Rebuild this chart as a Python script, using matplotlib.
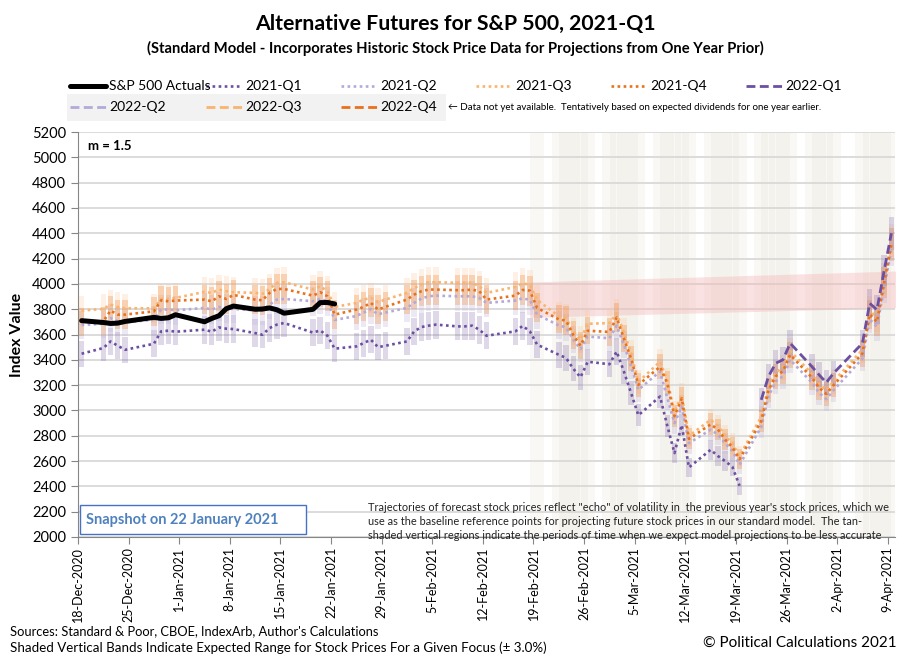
import numpy as np
import pandas as pd
import matplotlib
matplotlib.use("Agg")
import matplotlib.pyplot as plt
from matplotlib.lines import Line2D
from matplotlib.patches import Rectangle

plt.rcParams['font.family'] = ['Lato', 'DejaVu Sans']

# trading days shown on the chart
dates = ['2020-12-18', '2020-12-21', '2020-12-22', '2020-12-23', '2020-12-24', '2020-12-28',
         '2020-12-29', '2020-12-30', '2020-12-31', '2021-01-04', '2021-01-05', '2021-01-06',
         '2021-01-07', '2021-01-08', '2021-01-11', '2021-01-12', '2021-01-13', '2021-01-14',
         '2021-01-15', '2021-01-19', '2021-01-20', '2021-01-21', '2021-01-22', '2021-01-25',
         '2021-01-26', '2021-01-27', '2021-01-28', '2021-01-29', '2021-02-01', '2021-02-02',
         '2021-02-03', '2021-02-04', '2021-02-05', '2021-02-08', '2021-02-09', '2021-02-10',
         '2021-02-11', '2021-02-12', '2021-02-16', '2021-02-17', '2021-02-18', '2021-02-19',
         '2021-02-22', '2021-02-23', '2021-02-24', '2021-02-25', '2021-02-26', '2021-03-01',
         '2021-03-02', '2021-03-03', '2021-03-04', '2021-03-05', '2021-03-08', '2021-03-09',
         '2021-03-10', '2021-03-11', '2021-03-12', '2021-03-15', '2021-03-16', '2021-03-17',
         '2021-03-18', '2021-03-19', '2021-03-22', '2021-03-23', '2021-03-24', '2021-03-25',
         '2021-03-26', '2021-03-29', '2021-03-30', '2021-03-31', '2021-04-01', '2021-04-05',
         '2021-04-06', '2021-04-07', '2021-04-08', '2021-04-09']

actuals = [3709.41, 3694.92, 3687.26, 3690.01, 3703.06, 3735.36, 3727.04, 3732.04, 3756.07,
           3700.65, 3726.86, 3748.14, 3803.79, 3824.68, 3799.61, 3801.19, 3809.84, 3795.54,
           3768.25, 3798.91, 3851.85, 3853.07, 3841.47]

q1_2021 = [3448, 3493, 3545, 3511, 3479, 3527, 3625, 3630, 3622, 3638, 3622, 3656, 3646, 3643,
           3611, 3598, 3651, 3678, 3691, 3615, 3632, 3590, 3488, 3506, 3532, 3559, 3500, 3511,
           3545, 3625, 3659, 3670, 3678, 3664, 3664, 3670, 3638, 3590, 3625, 3668, 3625, 3520,
           3440, 3415, 3330, 3262, 3385, 3365, 3465, 3308, 3137, 2962, 3110, 2880, 2663, 2885,
           2550, 2689, 2640, 2600, 2555, 2405]

q2_2021 = [3675, 3685, 3730, 3704, 3696, 3717, 3797, 3797, 3791, 3810, 3797, 3818, 3807, 3802,
           3791, 3791, 3836, 3876, 3881, 3863, 3881, 3863, 3715, 3746, 3773, 3800, 3760, 3773,
           3810, 3850, 3884, 3902, 3907, 3902, 3902, 3902, 3889, 3850, 3868, 3886, 3873, 3757,
           3672, 3656, 3560, 3485, 3584, 3570, 3670, 3520, 3350, 3163, 3308, 3100, 2900, 3031,
           2742, 2847, 2810, 2740, 2680, 2571, 2870, 3110, 3230, 3270, 3400, 3220, 3140, 3090,
           3160, 3410, 3720, 3660, 3970, 4270]

q3_2021 = [3789, 3802, 3836, 3818, 3807, 3807, 3881, 3881, 3889, 3937, 3929, 3955, 3942, 3934,
           3929, 3921, 3960, 4008, 4013, 3955, 3981, 3942, 3818, 3849, 3876, 3889, 3855, 3876,
           3929, 3968, 3995, 4013, 4013, 4008, 4008, 4008, 3981, 3929, 3976, 4005, 3992, 3873,
           3745, 3730, 3625, 3557, 3685, 3690, 3765, 3620, 3450, 3225, 3385, 3240, 2985, 3120,
           2800, 2925, 2880, 2800, 2740, 2640, 2950, 3190, 3300, 3340, 3470, 3290, 3210, 3160,
           3230, 3480, 3790, 3730, 4040, 4340]

q4_2021 = [3700, 3704, 3789, 3757, 3757, 3783, 3870, 3862, 3868, 3876, 3862, 3902, 3881, 3913,
           3876, 3870, 3929, 3960, 3960, 3907, 3934, 3902, 3757, 3797, 3818, 3850, 3797, 3818,
           3876, 3915, 3942, 3955, 3955, 3950, 3950, 3955, 3942, 3876, 3907, 3952, 3947, 3810,
           3720, 3710, 3595, 3512, 3630, 3620, 3735, 3570, 3410, 3202, 3345, 3215, 2955, 3095,
           2775, 2890, 2850, 2770, 2710, 2615, 2915, 3160, 3270, 3310, 3440, 3260, 3180, 3130,
           3200, 3450, 3760, 3700, 4010, 4310]

# 2022-Q1 starts on 22 March
q1_2022 = [3084, 3268, 3373, 3400, 3531, 3347, 3281, 3220, 3294, 3531, 3847, 3795, 4105, 4400]

# tan shaded days start on 19 February
tan_start = '2021-02-19'
# dividend-based range (pink) at start/end
pink_days = ['2021-02-18', '2021-04-10']
pink_lo = [3735, 3812]
pink_hi = [4015, 4102]

start = pd.Timestamp('2020-12-18')
xd = np.array((pd.to_datetime(dates) - start).days, dtype=float) + 0.5
n = len(dates)


def pad(vals, first=0):
    a = np.full(n, np.nan)
    a[first:first + len(vals)] = vals
    return a


s_act = pad(actuals)
s_q1 = pad(q1_2021)
s_q2 = pad(q2_2021)
s_q3 = pad(q3_2021)
s_q4 = pad(q4_2021)
s_n1 = pad(q1_2022, n - len(q1_2022))

c_q1 = '#6b4fa0'
c_q2 = '#b4a9d9'
c_q3 = '#f9b46e'
c_q4 = '#e8711c'

fig = plt.figure(figsize=(9.1, 6.61), dpi=100)
ax = fig.add_axes([78 / 910, 124 / 661, 817 / 910, 405 / 661])

# tan shaded vertical regions
tmask = np.array(pd.to_datetime(dates) >= pd.Timestamp(tan_start))
ax.bar(xd[tmask], 6000, bottom=0, width=1.94, color='#d8cfb4', alpha=0.13, linewidth=0, zorder=0)

# pink range
px_ = (pd.to_datetime(pink_days) - start).days + 0.5
ax.fill_between(px_, pink_lo, pink_hi, color='#f5b5b5', alpha=0.38, linewidth=0, zorder=1)

# +/- 3% bands
for s, c, a in [(s_q1, '#7d64ab', 0.25), (s_q2, '#c2b8e0', 0.3), (s_q3, '#fbbf88', 0.22),
                (s_q4, '#f08a3a', 0.3), (s_n1, '#7d64ab', 0.25)]:
    m = ~np.isnan(s)
    ax.bar(xd[m], s[m] * 0.06, bottom=s[m] * 0.97, width=0.75, color=c, alpha=a,
           linewidth=0, zorder=2)

dot = (0, (1, 1.3))
dash = (0, (3.2, 1.6))
ax.plot(xd, s_q2, color=c_q2, lw=1.9, ls=dot, zorder=4)
ax.plot(xd, s_q1, color=c_q1, lw=1.9, ls=dot, zorder=4)
ax.plot(xd, s_q3, color=c_q3, lw=1.9, ls=dot, zorder=4)
ax.plot(xd, s_q4, color=c_q4, lw=1.9, ls=dot, zorder=4)
ax.plot(xd, s_n1, color=c_q1, lw=2.0, ls=dash, zorder=5)
ax.plot(xd, s_act, color='black', lw=3.6, solid_capstyle='round', zorder=6)

ax.set_xlim(0, 113)
ax.set_ylim(2000, 5200)
ax.set_yticks(np.arange(2000, 5201, 200))
ax.yaxis.grid(True, color='#d9d9d9', lw=1.3, zorder=0)
ax.set_axisbelow(True)
ticks = np.arange(0, 113, 7)
tdates = [start + pd.Timedelta(days=int(t)) for t in ticks]
ax.set_xticks(ticks)
ax.set_xticklabels([f"{d.day}-{d.strftime('%b-%Y')}" for d in tdates], rotation=90,
                   fontsize=9)
ax.tick_params(axis='y', labelsize=10.5, length=5, color='#868686', direction='out')
ax.tick_params(axis='x', length=5, color='#868686', direction='out', pad=2)
for sp in ['top', 'right']:
    ax.spines[sp].set_visible(False)
for sp in ['left', 'bottom']:
    ax.spines[sp].set_color('#868686')

ax.text(0.012, 0.965, 'm = 1.5', transform=ax.transAxes, fontsize=9.5, fontweight='bold',
        va='center')

ax.text(40.1, 2278, "Trajectories of forecast stock prices reflect \"echo\" of volatility in  the previous year's stock prices, which we\n"
        "use as the baseline reference points for projecting future stock prices in our standard model.  The tan-\n"
        "shaded vertical regions indicate the periods of time when we expect model projections to be less accurate",
        fontsize=7.95, ha='left', va='top', linespacing=1.35, color='#222222', zorder=7)

fig.text(17 / 910, 1 - 335 / 661, 'Index Value', rotation=90, fontsize=11.5, fontweight='bold',
         ha='center', va='center')


def P(x, y):
    return x / 910, 1 - y / 661


# snapshot box
fig.patches.append(Rectangle(P(80, 534), 226 / 910, 29 / 661, transform=fig.transFigure,
                             facecolor='white', edgecolor='#4472c4', lw=1.0, zorder=8))
fig.text(*P(86, 520), 'Snapshot on 22 January 2021', fontsize=10.5, fontweight='bold',
         color='#4f81bd', va='center', zorder=9)

# titles
fig.text(*P(455, 24), 'Alternative Futures for S&P 500, 2021-Q1', fontsize=15.3, fontweight='bold',
         ha='center', va='center')
fig.text(*P(455, 48), '(Standard Model - Incorporates Historic Stock Price Data for Projections from One Year Prior)',
         fontsize=10.6, fontweight='bold', ha='center', va='center')

# legend
fig.patches.append(Rectangle(P(67, 121), 379 / 910, 27 / 661, transform=fig.transFigure,
                             facecolor='#f2f2f2', edgecolor='none', zorder=0))
legend_items = [
    (70, 86, 'S&P 500 Actuals', 'black', '-', 3.6),
    (206, 86, '2021-Q1', c_q1, dot, 1.9),
    (341, 86, '2021-Q2', c_q2, dot, 1.9),
    (476, 86, '2021-Q3', c_q3, dot, 1.9),
    (611, 86, '2021-Q4', c_q4, dot, 1.9),
    (746, 86, '2022-Q1', c_q1, dash, 2.0),
    (70, 107, '2022-Q2', c_q2, dash, 2.0),
    (206, 107, '2022-Q3', c_q3, dash, 2.0),
    (341, 107, '2022-Q4', c_q4, dash, 2.0),
]
for lx, ly, lab, col, ls, lw in legend_items:
    x0, y0 = P(lx, ly)
    x1, _ = P(lx + 36, ly)
    fig.add_artist(Line2D([x0, x1], [y0, y0], transform=fig.transFigure, color=col, ls=ls, lw=lw,
                          solid_capstyle='round'))
    fig.text(*P(lx + 39, ly), lab, fontsize=10, va='center')
fig.text(*P(448, 107), '\u2190 Data not yet available.  Tentatively based on expected dividends for one year earlier.',
         fontsize=7, va='center')

# footer
fig.text(*P(10, 631), "Sources: Standard & Poor, CBOE, IndexArb, Author's Calculations", fontsize=9.3,
         va='center')
fig.text(*P(10, 648), 'Shaded Vertical Bands Indicate Expected Range for Stock Prices For a Given Focus (\u00b1 3.0%)',
         fontsize=9.6, va='center')
fig.text(*P(897, 643), '\u00a9 Political Calculations 2021', fontsize=11, ha='right', va='center')

fig.savefig('out.png', dpi=100)
